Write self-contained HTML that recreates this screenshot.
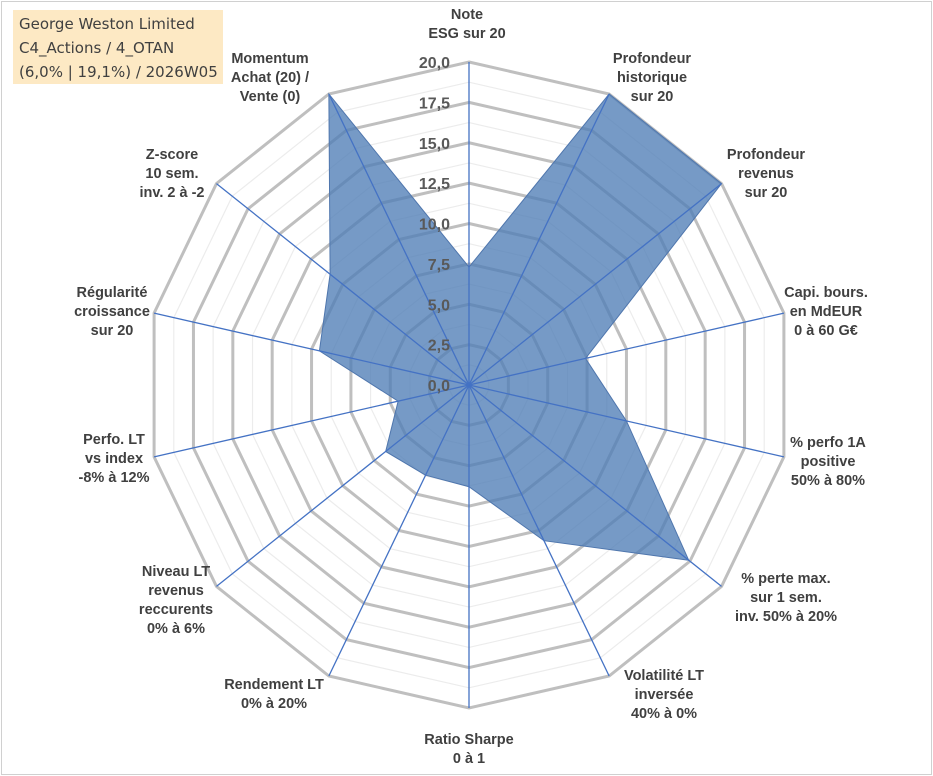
<!DOCTYPE html>
<html><head><meta charset="utf-8">
<style>
html,body{margin:0;padding:0;background:#fff;}
#wrap{position:relative;width:933px;height:776px;overflow:hidden;font-family:"Liberation Sans",sans-serif;}
#frame{position:absolute;left:1px;top:1px;width:929px;height:772px;border:1px solid #d0d0d0;}
#title{position:absolute;left:13px;top:10px;width:210px;height:74px;background:#fde9c4;color:#404040;font-family:"DejaVu Sans","Liberation Sans",sans-serif;font-size:15px;line-height:24px;padding-left:6px;box-sizing:border-box;padding-top:2px;}
.lbl{position:absolute;font-weight:bold;font-size:14.5px;line-height:19px;color:#404040;text-align:center;white-space:nowrap;transform:translateX(-50%);}
</style></head><body>
<div id="wrap">
<div id="frame"></div>
<div id="title">George Weston Limited<br>C4_Actions / 4_OTAN<br>(6,0% | 19,1%) / 2026W05</div>
<svg id="svg" width="933" height="776" style="position:absolute;left:0;top:0"></svg>
<div class="lbl" style="left:467px;top:6px">Note<br>ESG sur 20</div>
<div class="lbl" style="left:652px;top:50px">Profondeur<br>historique<br>sur 20</div>
<div class="lbl" style="left:766px;top:146px">Profondeur<br>revenus<br>sur 20</div>
<div class="lbl" style="left:826px;top:284px">Capi. bours.<br>en MdEUR<br>0 à 60 G€</div>
<div class="lbl" style="left:828px;top:434px">% perfo 1A<br>positive<br>50% à 80%</div>
<div class="lbl" style="left:786px;top:570px">% perte max.<br>sur 1 sem.<br>inv. 50% à 20%</div>
<div class="lbl" style="left:664px;top:667px">Volatilité LT<br>inversée<br>40% à 0%</div>
<div class="lbl" style="left:469px;top:731px">Ratio Sharpe<br>0 à 1</div>
<div class="lbl" style="left:274px;top:676px">Rendement LT<br>0% à 20%</div>
<div class="lbl" style="left:176px;top:563px">Niveau LT<br>revenus<br>reccurents<br>0% à 6%</div>
<div class="lbl" style="left:114px;top:431px">Perfo. LT<br>vs index<br>-8% à 12%</div>
<div class="lbl" style="left:112px;top:284px">Régularité<br>croissance<br>sur 20</div>
<div class="lbl" style="left:172px;top:146px">Z-score<br>10 sem.<br>inv. 2 à -2</div>
<div class="lbl" style="left:270px;top:50px">Momentum<br>Achat (20) /<br>Vente (0)</div>
</div>
<script>
const categories=["ESG","Prof. historique","Prof. revenus","Capi","Perfo 1A","Perte max","Volatilité","Sharpe","Rendement","Niveau LT","Perfo LT","Régularité","Z-score","Momentum"];
const values=[7.3,20,20,7.4,10,17.4,10.7,6.3,6.2,6.6,4.5,9.5,11,20];
const tickValues=[0,2.5,5,7.5,10,12.5,15,17.5,20];
const tickLabels=["0,0","2,5","5,0","7,5","10,0","12,5","15,0","17,5","20,0"];
const maxV=20;
const cx=469,cy=385,R=323;
const svg=document.getElementById('svg');
const NS='http://www.w3.org/2000/svg';
const n=categories.length;
function ang(i){return i*2*Math.PI/n;}
function pt(i,v){const r=v/maxV*R;return [cx+r*Math.sin(ang(i)),cy-r*Math.cos(ang(i))];}
function mk(t,a){const e=document.createElementNS(NS,t);for(const k in a)e.setAttribute(k,a[k]);svg.appendChild(e);return e;}
for(let k=1;k<=16;k++){
 const v=k*1.25;const major=k%2===0;
 const pts=categories.map((c,i)=>pt(i,v).join(',')).join(' ');
 const e=mk('polygon',{points:pts,fill:'none',stroke:major?'#bfbfbf':'#ececec','stroke-width':major?3:1.2});
 
 
}
const poly=mk('polygon',{points:values.map((v,i)=>pt(i,v).join(',')).join(' '),fill:'rgba(79,125,182,0.78)',stroke:'#4f76ad','stroke-width':1});


categories.forEach((c,i)=>{
 const p=pt(i,maxV);
 const l=mk('line',{x1:cx,y1:cy,x2:p[0],y2:p[1],stroke:'#4472c4','stroke-width':1.3});
 
 
});
tickValues.forEach((v,k)=>{
 const y=cy-v/maxV*R;
 const t=mk('text',{x:cx-19,y:y+6,'text-anchor':'end','font-family':'Liberation Sans, sans-serif','font-weight':'bold','font-size':'16',fill:'#595959'});
 t.textContent=tickLabels[k];
 
 
});
</script>
</body></html>
